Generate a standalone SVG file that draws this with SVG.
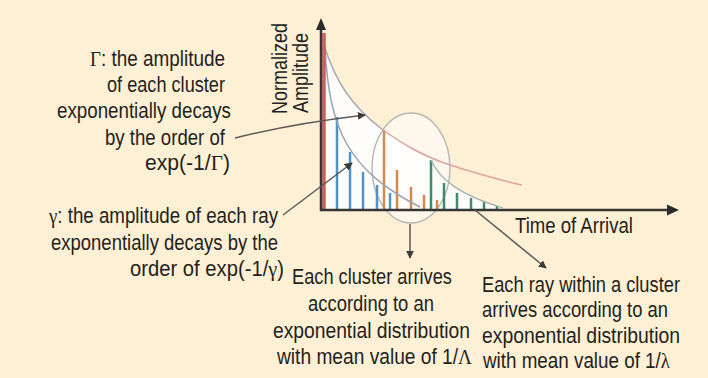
<svg xmlns="http://www.w3.org/2000/svg" width="708" height="378" viewBox="0 0 708 378">
  <style>
    .t { font-family: "Liberation Sans", Arial, sans-serif; font-size: 22px; fill: #231f20; }
    .g { font-family: "Liberation Serif", "Times New Roman", serif; }
    .axis { stroke: #353535; stroke-width: 2.5; fill: none; }
    .conn { stroke: #5a5a5a; stroke-width: 1.5; fill: none; marker-end: url(#ah); }
    .blue { stroke: #4f93c9; stroke-width: 2.5; }
    .orange { stroke: #d48a4c; stroke-width: 2.5; }
    .green { stroke: #3f8a6c; stroke-width: 2.5; }
  </style>
  <defs>
    <marker id="ah" viewBox="0 0 10 10" refX="9" refY="5" markerWidth="8" markerHeight="8" markerUnits="userSpaceOnUse" orient="auto">
      <path d="M0,0 L10,5 L0,10 Z" fill="#3a3a3a"/>
    </marker>
  </defs>
  <rect x="0" y="0" width="708" height="378" fill="#fdf0d4"/>

  <g id="plot">
    <path d="M324,45 C335,80 350,105 383,130 C400,142 415,152 431,160 C440,180 460,195 500,207 L500,210 L324,210 Z" fill="#ffffff" fill-opacity="0.85"/>
    <ellipse cx="411" cy="168" rx="39" ry="55" fill="#ffffff" fill-opacity="0.55" stroke="#b8b8b8" stroke-width="1.5"/>
    <line class="blue" x1="337" y1="210" x2="337" y2="117"/>
    <line class="blue" x1="350" y1="210" x2="350" y2="152"/>
    <line class="blue" x1="363" y1="210" x2="363" y2="172"/>
    <line class="blue" x1="377" y1="210" x2="377" y2="185"/>
    <line class="blue" x1="390" y1="210" x2="390" y2="193"/>
    <line class="orange" x1="384" y1="210" x2="384" y2="130"/>
    <line class="orange" x1="397" y1="210" x2="397" y2="170"/>
    <line class="orange" x1="411" y1="210" x2="411" y2="187"/>
    <line class="orange" x1="424" y1="210" x2="424" y2="195"/>
    <line class="orange" x1="437" y1="210" x2="437" y2="200"/>
    <line class="green" x1="431" y1="210" x2="431" y2="160"/>
    <line class="green" x1="444" y1="210" x2="444" y2="183"/>
    <line class="green" x1="457" y1="210" x2="457" y2="193"/>
    <line class="green" x1="471" y1="210" x2="471" y2="198"/>
    <line class="green" x1="484" y1="210" x2="484" y2="202"/>
    <line class="green" x1="497" y1="210" x2="497" y2="206"/>
    <path d="M324,45 C335,80 350,105 383,130" fill="none" stroke="#a9aab4" stroke-width="1.5"/>
    <path d="M383,130 C400,142 420,155 450,165 C475,173 500,180 522,185" fill="none" stroke="#dca2a0" stroke-width="1.5"/>
    <path d="M325,47 C329,130 348,170 420,207" fill="none" stroke="#98a4b6" stroke-width="1.5"/>
    <path d="M431,160 C440,180 460,195 503,208" fill="none" stroke="#a7b0b6" stroke-width="1.3"/>
    <line x1="324" y1="210" x2="324" y2="33" stroke="#cf5e5e" stroke-width="3.5"/>
    <line class="axis" x1="321" y1="211" x2="321" y2="27"/>
    <path d="M321,18 L316,30 L326,30 Z" fill="#2a2a2a"/>
    <line class="axis" x1="320" y1="210" x2="668" y2="210"/>
    <path d="M679,210 L667,204.5 L667,215.5 Z" fill="#2a2a2a"/>
  </g>

  <g id="connectors">
    <path class="conn" d="M235,138 Q290,124 365,115"/>
    <path class="conn" d="M283,215 L352,163"/>
    <path class="conn" d="M410,224 L410,258"/>
    <path class="conn" d="M475,210 L546,268"/>
  </g>

  <g id="axis-labels">
    <text class="t" transform="translate(287,114) rotate(-90) scale(0.86,1)" textLength="105.8" lengthAdjust="spacingAndGlyphs">Normalized</text>
    <text class="t" transform="translate(307.5,113) rotate(-90) scale(0.86,1)" textLength="93" lengthAdjust="spacingAndGlyphs">Amplitude</text>
    <text class="t" transform="translate(515,233) scale(0.86,1)" textLength="137.2" lengthAdjust="spacingAndGlyphs">Time of Arrival</text>
  </g>

  <g id="label-cluster-decay">
    <text class="t" transform="translate(90,66) scale(0.86,1)" textLength="157" lengthAdjust="spacingAndGlyphs"><tspan class="g">Γ</tspan>: the amplitude</text>
    <text class="t" transform="translate(107,92) scale(0.86,1)" textLength="137.2" lengthAdjust="spacingAndGlyphs">of each cluster</text>
    <text class="t" transform="translate(57,118) scale(0.86,1)" textLength="202.3" lengthAdjust="spacingAndGlyphs">exponentially decays</text>
    <text class="t" transform="translate(105,145) scale(0.86,1)" textLength="139.5" lengthAdjust="spacingAndGlyphs">by the order of</text>
    <text class="t" transform="translate(145,170) scale(0.86,1)" textLength="98.8" lengthAdjust="spacingAndGlyphs">exp(-1/<tspan class="g">Γ</tspan>)</text>
  </g>

  <g id="label-ray-decay">
    <text class="t" transform="translate(49,223) scale(0.86,1)" textLength="266.3" lengthAdjust="spacingAndGlyphs"><tspan class="g">γ</tspan>: the amplitude of each ray</text>
    <text class="t" transform="translate(51,250) scale(0.86,1)" textLength="264" lengthAdjust="spacingAndGlyphs">exponentially decays by the</text>
    <text class="t" transform="translate(130,276) scale(0.86,1)" textLength="179" lengthAdjust="spacingAndGlyphs">order of exp(-1/<tspan class="g">γ</tspan>)</text>
  </g>

  <g id="label-cluster-arrival">
    <text class="t" transform="translate(292,284) scale(0.86,1)" textLength="186" lengthAdjust="spacingAndGlyphs">Each cluster arrives</text>
    <text class="t" transform="translate(308,311) scale(0.86,1)" textLength="146.5" lengthAdjust="spacingAndGlyphs">according to an</text>
    <text class="t" transform="translate(273,338) scale(0.86,1)" textLength="229" lengthAdjust="spacingAndGlyphs">exponential distribution</text>
    <text class="t" transform="translate(277,364) scale(0.86,1)" textLength="226.7" lengthAdjust="spacingAndGlyphs">with mean value of 1/<tspan class="g">Λ</tspan></text>
  </g>

  <g id="label-ray-arrival">
    <text class="t" transform="translate(482,292) scale(0.86,1)" textLength="230.2" lengthAdjust="spacingAndGlyphs">Each ray within a cluster</text>
    <text class="t" transform="translate(482,317) scale(0.86,1)" textLength="216.3" lengthAdjust="spacingAndGlyphs">arrives according to an</text>
    <text class="t" transform="translate(482,343) scale(0.86,1)" textLength="230.2" lengthAdjust="spacingAndGlyphs">exponential distribution</text>
    <text class="t" transform="translate(483,368) scale(0.86,1)" textLength="217.4" lengthAdjust="spacingAndGlyphs">with mean value of 1/<tspan class="g">λ</tspan></text>
  </g>
</svg>
